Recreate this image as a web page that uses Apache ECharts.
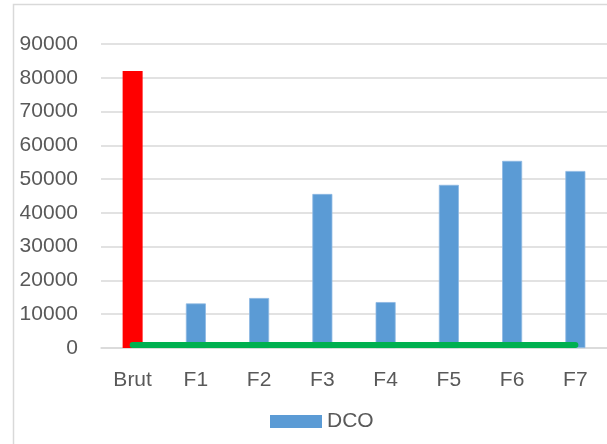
<!DOCTYPE html>
<html>
<head>
<meta charset="utf-8">
<script src="https://cdn.jsdelivr.net/npm/echarts@6/dist/echarts.min.js"></script>
<style>html,body{margin:0;padding:0;background:#fff;}#c{width:607px;height:444px;}</style>
</head>
<body>
<div id="c"></div>
<script>
const categories = ['Brut', 'F1', 'F2', 'F3', 'F4', 'F5', 'F6', 'F7'];
const dcoValues = [82000, 13200, 14800, 45600, 13600, 48300, 55400, 52400];
const baselineValues = [900, 900, 900, 900, 900, 900, 900, 900];
const yTicks = { min: 0, max: 90000, interval: 10000 };

const chart = echarts.init(document.getElementById('c'));
const font = 'Liberation Sans, Arial, sans-serif';
chart.setOption({
  animation: false,
  backgroundColor: '#fff',
  graphic: [{
    type: 'rect', silent: true, z: -1,
    shape: { x: 13.5, y: 4.5, width: 700, height: 600 },
    style: { fill: 'none', stroke: '#D9D9D9', lineWidth: 1.5 }
  }],
  grid: { left: 101, right: -2, top: 44, bottom: 96, containLabel: false },
  legend: {
    bottom: 7, left: 265,
    data: ['DCO'],
    itemWidth: 52, itemHeight: 13, itemGap: 10,
    icon: 'rect',
    itemStyle: { borderWidth: 0 },
    textStyle: { color: '#595959', fontSize: 21, fontFamily: font }
  },
  xAxis: {
    type: 'category', data: categories,
    axisLine: { show: true, lineStyle: { color: '#D9D9D9', width: 1.5 } },
    axisTick: { show: false },
    axisLabel: { color: '#595959', fontSize: 21, fontFamily: font, margin: 22 }
  },
  yAxis: {
    type: 'value', min: yTicks.min, max: yTicks.max, interval: yTicks.interval,
    axisLine: { show: false }, axisTick: { show: false },
    splitLine: { lineStyle: { color: '#D9D9D9', width: 1.5 } },
    axisLabel: { color: '#595959', fontSize: 21, fontFamily: font, margin: 23, formatter: v => String(v) }
  },
  series: [{
    name: 'DCO', type: 'bar', barWidth: 20,
    itemStyle: { color: '#5B9BD5', borderColor: '#8DB8E2', borderWidth: 0.8 },
    data: dcoValues.map((v, i) => i === 0 ? { value: v, itemStyle: { color: '#FF0000', borderWidth: 0 } } : v)
  }, {
    name: 'Base', type: 'line', data: baselineValues,
    symbol: 'none', z: 5,
    lineStyle: { color: '#00B050', width: 6, cap: 'round' },
    itemStyle: { color: '#00B050' }
  }]
});
</script>
</body>
</html>
